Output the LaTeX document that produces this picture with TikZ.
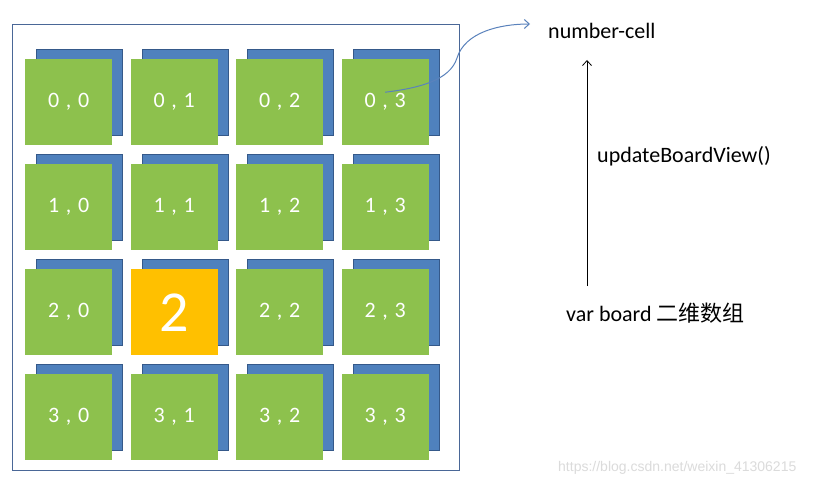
\documentclass[tikz,border=0pt]{standalone}
\usepackage{fontspec}
\setmainfont{Carlito}
\newfontfamily\cjk{Noto Sans CJK SC}
\newfontfamily\wmfont{Liberation Sans}
\usetikzlibrary{arrows.meta}
\definecolor{cellgreen}{HTML}{8DC14D}
\definecolor{cellblue}{HTML}{4F81BD}
\definecolor{cellblueedge}{HTML}{35598A}
\definecolor{cellorange}{HTML}{FFC000}
\definecolor{frameblue}{HTML}{4A6797}
\definecolor{curveblue}{HTML}{5A82BC}
\tikzset{
  backsq/.style={fill=cellblue, draw=cellblueedge, line width=1pt, minimum width=86pt, minimum height=86pt, anchor=north west, inner sep=0pt},
  frontsq/.style={fill=cellgreen, minimum width=87pt, minimum height=86pt, anchor=north west, inner sep=0pt, text=white, font=\fontsize{22}{25}\selectfont},
  hotsq/.style={frontsq, fill=cellorange, font=\fontsize{58}{62}\selectfont},
  label/.style={font=\fontsize{22}{25}\selectfont, text=black, inner sep=0pt},
  openarrow/.style={-{Straight Barb[length=5pt,width=9pt]}}
}
\newcommand{\cellsp}{\hspace{0.3em}}
\begin{document}
\begin{tikzpicture}[x=1pt,y=-1pt]
\useasboundingbox (0,0) rectangle (839,487);
\fill[white] (0,0) rectangle (839,487);
\node[draw=frameblue, line width=1.2pt, minimum width=447pt, minimum height=446pt, anchor=north west, inner sep=0pt] (frame) at (12,24) {};
\foreach \i in {0,1,2,3}{
  \foreach \j in {0,1,2,3}{
    \pgfmathsetmacro{\xx}{25+105.5*\j}
    \pgfmathsetmacro{\yy}{59+105*\i}
    \node[backsq] (b\i\j) at (\xx+11,\yy-10) {};
  }
}
\foreach \i in {0,1,2,3}{
  \foreach \j in {0,1,2,3}{
    \pgfmathsetmacro{\xx}{25+105.5*\j}
    \pgfmathsetmacro{\yy}{59+105*\i}
    \ifnum\i=2 \ifnum\j=1
      \node[hotsq] (c\i\j) at (\xx,\yy) {2};
    \else
      \node[frontsq] (c\i\j) at (\xx,\yy) {\i\cellsp,\cellsp\j};
    \fi\else
      \node[frontsq] (c\i\j) at (\xx,\yy) {\i\cellsp,\cellsp\j};
    \fi
  }
}
\node[label, anchor=west] (nc) at (548,31) {number-cell};
\node[label, anchor=west] (ub) at (597,156) {updateBoardView()};
\node[label, anchor=west] (vb) at (566,313) {var board {\cjk 二维数组}};
\coordinate (abot) at (587,286);
\coordinate (atop) at (587,60);
\draw[openarrow, line width=0.8pt] (abot) -- (atop);
\coordinate (cstart) at ([yshift=10pt]c03.center);
\coordinate (cend) at ([xshift=-18pt,yshift=7pt]nc.west);
\draw[curveblue, line width=1pt, openarrow] (cstart) .. controls (420,88) and (450,80) .. (457,58) .. controls (465,32) and (500,24) .. (cend);
\node[font=\wmfont\fontsize{14}{16}\selectfont, text=black!14, anchor=west, inner sep=0pt] (wm) at (558,468) {https://blog.csdn.net/weixin\_41306215};
\end{tikzpicture}
\end{document}
